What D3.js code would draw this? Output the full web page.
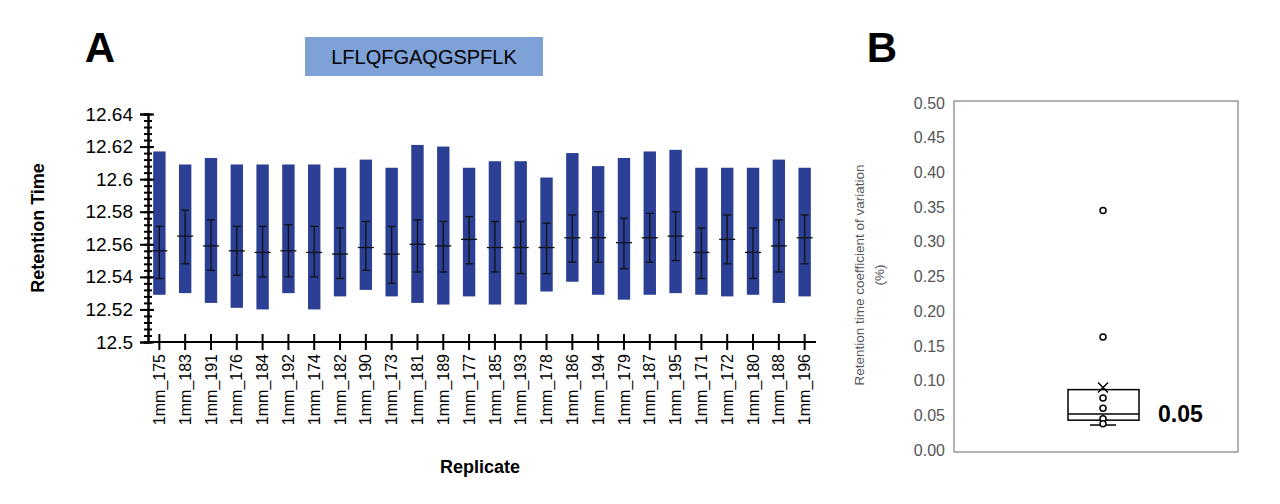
<!DOCTYPE html><html><head><script src="https://cdn.jsdelivr.net/npm/d3@7"></script>
<style>body{margin:0;background:#fff}</style></head><body><svg id="c" width="1280" height="504"></svg>
<script>
const replicates=["1mm_175","1mm_183","1mm_191","1mm_176","1mm_184","1mm_192","1mm_174","1mm_182","1mm_190","1mm_173","1mm_181","1mm_189","1mm_177","1mm_185","1mm_193","1mm_178","1mm_186","1mm_194","1mm_179","1mm_187","1mm_195","1mm_171","1mm_172","1mm_180","1mm_188","1mm_196"];
const rangeTop=[12.617,12.609,12.613,12.609,12.609,12.609,12.609,12.607,12.612,12.607,12.621,12.620,12.607,12.611,12.611,12.601,12.616,12.608,12.613,12.617,12.618,12.607,12.607,12.607,12.612,12.607];
const rangeBottom=[12.529,12.530,12.524,12.521,12.520,12.530,12.520,12.528,12.532,12.528,12.524,12.523,12.528,12.523,12.523,12.531,12.537,12.529,12.526,12.529,12.530,12.529,12.528,12.529,12.524,12.528];
const meanRT=[12.556,12.565,12.559,12.556,12.555,12.556,12.555,12.554,12.558,12.554,12.560,12.559,12.563,12.558,12.558,12.558,12.564,12.564,12.561,12.564,12.565,12.555,12.563,12.555,12.559,12.564];
const errHigh=[12.571,12.581,12.575,12.571,12.571,12.572,12.571,12.570,12.574,12.571,12.575,12.574,12.577,12.574,12.574,12.573,12.578,12.580,12.576,12.579,12.580,12.570,12.578,12.570,12.575,12.578];
const errLow=[12.539,12.548,12.544,12.541,12.540,12.540,12.540,12.539,12.544,12.536,12.543,12.543,12.548,12.543,12.542,12.542,12.549,12.549,12.545,12.549,12.550,12.539,12.548,12.539,12.543,12.548];
const yTicksA=[12.5,12.52,12.54,12.56,12.58,12.6,12.62,12.64];
const cvOutliers=[0.345,0.163,0.075,0.06,0.045,0.038];
const cvBox={min:0.036,q1:0.043,median:0.052,q3:0.087,mean:0.09};
const yTicksB=[0,0.05,0.1,0.15,0.2,0.25,0.3,0.35,0.4,0.45,0.5];

const svg=d3.select("#c");
svg.append("text").attr("x",100).attr("y",62).attr("font-family","Arial").attr("font-weight","bold").attr("font-size",42).attr("text-anchor","middle").text("A");
svg.append("text").attr("x",882).attr("y",62).attr("font-family","Arial").attr("font-weight","bold").attr("font-size",42).attr("text-anchor","middle").text("B");
svg.append("rect").attr("x",305).attr("y",37).attr("width",238).attr("height",39).attr("fill","#7ea2d8");
svg.append("text").attr("x",424).attr("y",64).attr("text-anchor","middle").attr("font-family","Arial").attr("font-size",20).text("LFLQFGAQGSPFLK");

const x=d3.scaleBand().domain(replicates).range([148,816]).paddingInner(0.52).paddingOuter(0.2);
const y=d3.scaleLinear().domain([12.5,12.64]).range([342,114]);
const g=svg.append("g");
g.selectAll("rect.b").data(replicates).join("rect").attr("x",d=>x(d)).attr("width",x.bandwidth())
 .attr("y",(d,i)=>y(rangeTop[i])).attr("height",(d,i)=>y(rangeBottom[i])-y(rangeTop[i])).attr("fill","#2b3f94");
replicates.forEach((d,i)=>{
 const cx=x(d)+x.bandwidth()/2;
 g.append("line").attr("x1",cx).attr("x2",cx).attr("y1",y(errHigh[i])).attr("y2",y(errLow[i])).attr("stroke","#111").attr("stroke-width",1.3);
 [errHigh[i],errLow[i]].forEach(v=>g.append("line").attr("x1",cx-4).attr("x2",cx+4).attr("y1",y(v)).attr("y2",y(v)).attr("stroke","#111").attr("stroke-width",1.3));
 g.append("line").attr("x1",cx-8).attr("x2",cx+8).attr("y1",y(meanRT[i])).attr("y2",y(meanRT[i])).attr("stroke","#111").attr("stroke-width",1.3);
});
const ax=g.append("g").attr("transform","translate(148,0)");
ax.call(d3.axisLeft(y).tickValues(d3.range(12.5,12.6401,0.004)).tickSize(4).tickFormat(""));
ax.call(g2=>g2.selectAll(".tick line").attr("x2",4).attr("x1",-4));
ax.selectAll("path,line").attr("stroke","#000").attr("stroke-width",2);
const ax2=g.append("g").attr("transform","translate(148,0)").call(d3.axisLeft(y).tickValues(yTicksA).tickSize(8).tickFormat(d=>d3.format("")(+d.toFixed(2))));
ax2.selectAll("line,path").attr("stroke","#000").attr("stroke-width",2);
ax2.selectAll(".tick line").attr("x1",6);
ax2.selectAll("text").attr("font-family","Arial").attr("font-size",19).attr("fill","#000").attr("dx",-4);
const xa=g.append("g").attr("transform","translate(0,342)").call(d3.axisBottom(x).tickSize(8).tickSizeOuter(0));
xa.select(".domain").attr("d","M148,0H816").attr("stroke","#000").attr("stroke-width",2);
xa.selectAll(".tick line").attr("y1",-8).attr("stroke","#000").attr("stroke-width",2);
xa.selectAll("text").attr("font-family","Arial").attr("font-size",16).attr("fill","#000").attr("transform","rotate(-90)").attr("text-anchor","end").attr("x",-12).attr("y",0).attr("dy","0.35em");
svg.append("text").attr("transform","translate(44,228) rotate(-90)").attr("text-anchor","middle").attr("font-family","Arial").attr("font-weight","bold").attr("font-size",18).text("Retention Time");
svg.append("text").attr("x",480).attr("y",473).attr("text-anchor","middle").attr("font-family","Arial").attr("font-weight","bold").attr("font-size",18).text("Replicate");

const yb=d3.scaleLinear().domain([0,0.5]).range([450,103]);
const B=svg.append("g");
B.append("rect").attr("x",954).attr("y",101).attr("width",284).attr("height",351).attr("fill","none").attr("stroke","#888").attr("stroke-width",1.3);
const ab=B.append("g").attr("transform","translate(954,0)").call(d3.axisLeft(yb).tickValues(yTicksB).tickSize(0).tickFormat(d3.format(".2f")));
ab.select(".domain").remove();
ab.selectAll("text").attr("font-family","Arial").attr("font-size",16).attr("fill","#555").attr("dx",-6);
svg.append("text").attr("transform","translate(864,275) rotate(-90)").attr("text-anchor","middle").attr("font-family","Arial").attr("font-size",13.5).attr("fill","#555").text("Retention time coefficient of variation");
svg.append("text").attr("transform","translate(884,275) rotate(-90)").attr("text-anchor","middle").attr("font-family","Arial").attr("font-size",13.5).attr("fill","#555").text("(%)");
const bx0=1068,bx1=1139,bc=1103;
B.append("line").attr("x1",bc).attr("x2",bc).attr("y1",yb(cvBox.q1)).attr("y2",yb(cvBox.min)).attr("stroke","#000").attr("stroke-width",1.5);
B.append("line").attr("x1",bc-13).attr("x2",bc+13).attr("y1",yb(cvBox.min)).attr("y2",yb(cvBox.min)).attr("stroke","#000").attr("stroke-width",1.5);
B.append("rect").attr("x",bx0).attr("width",bx1-bx0).attr("y",yb(cvBox.q3)).attr("height",yb(cvBox.q1)-yb(cvBox.q3)).attr("fill","none").attr("stroke","#000").attr("stroke-width",1.5);
B.append("line").attr("x1",bx0).attr("x2",bx1).attr("y1",yb(cvBox.median)).attr("y2",yb(cvBox.median)).attr("stroke","#000").attr("stroke-width",1.5);
B.selectAll("circle").data(cvOutliers).join("circle").attr("cx",bc).attr("cy",d=>yb(d)).attr("r",3).attr("fill","#fff").attr("stroke","#000").attr("stroke-width",1.5);
const my=yb(cvBox.mean);
B.append("path").attr("d",`M${bc-5},${my-5}L${bc+5},${my+5}M${bc-5},${my+5}L${bc+5},${my-5}`).attr("stroke","#000").attr("stroke-width",1.5);
B.append("text").attr("x",1158).attr("y",422).attr("font-family","Arial").attr("font-weight","bold").attr("font-size",23).text("0.05");
</script></body></html>
